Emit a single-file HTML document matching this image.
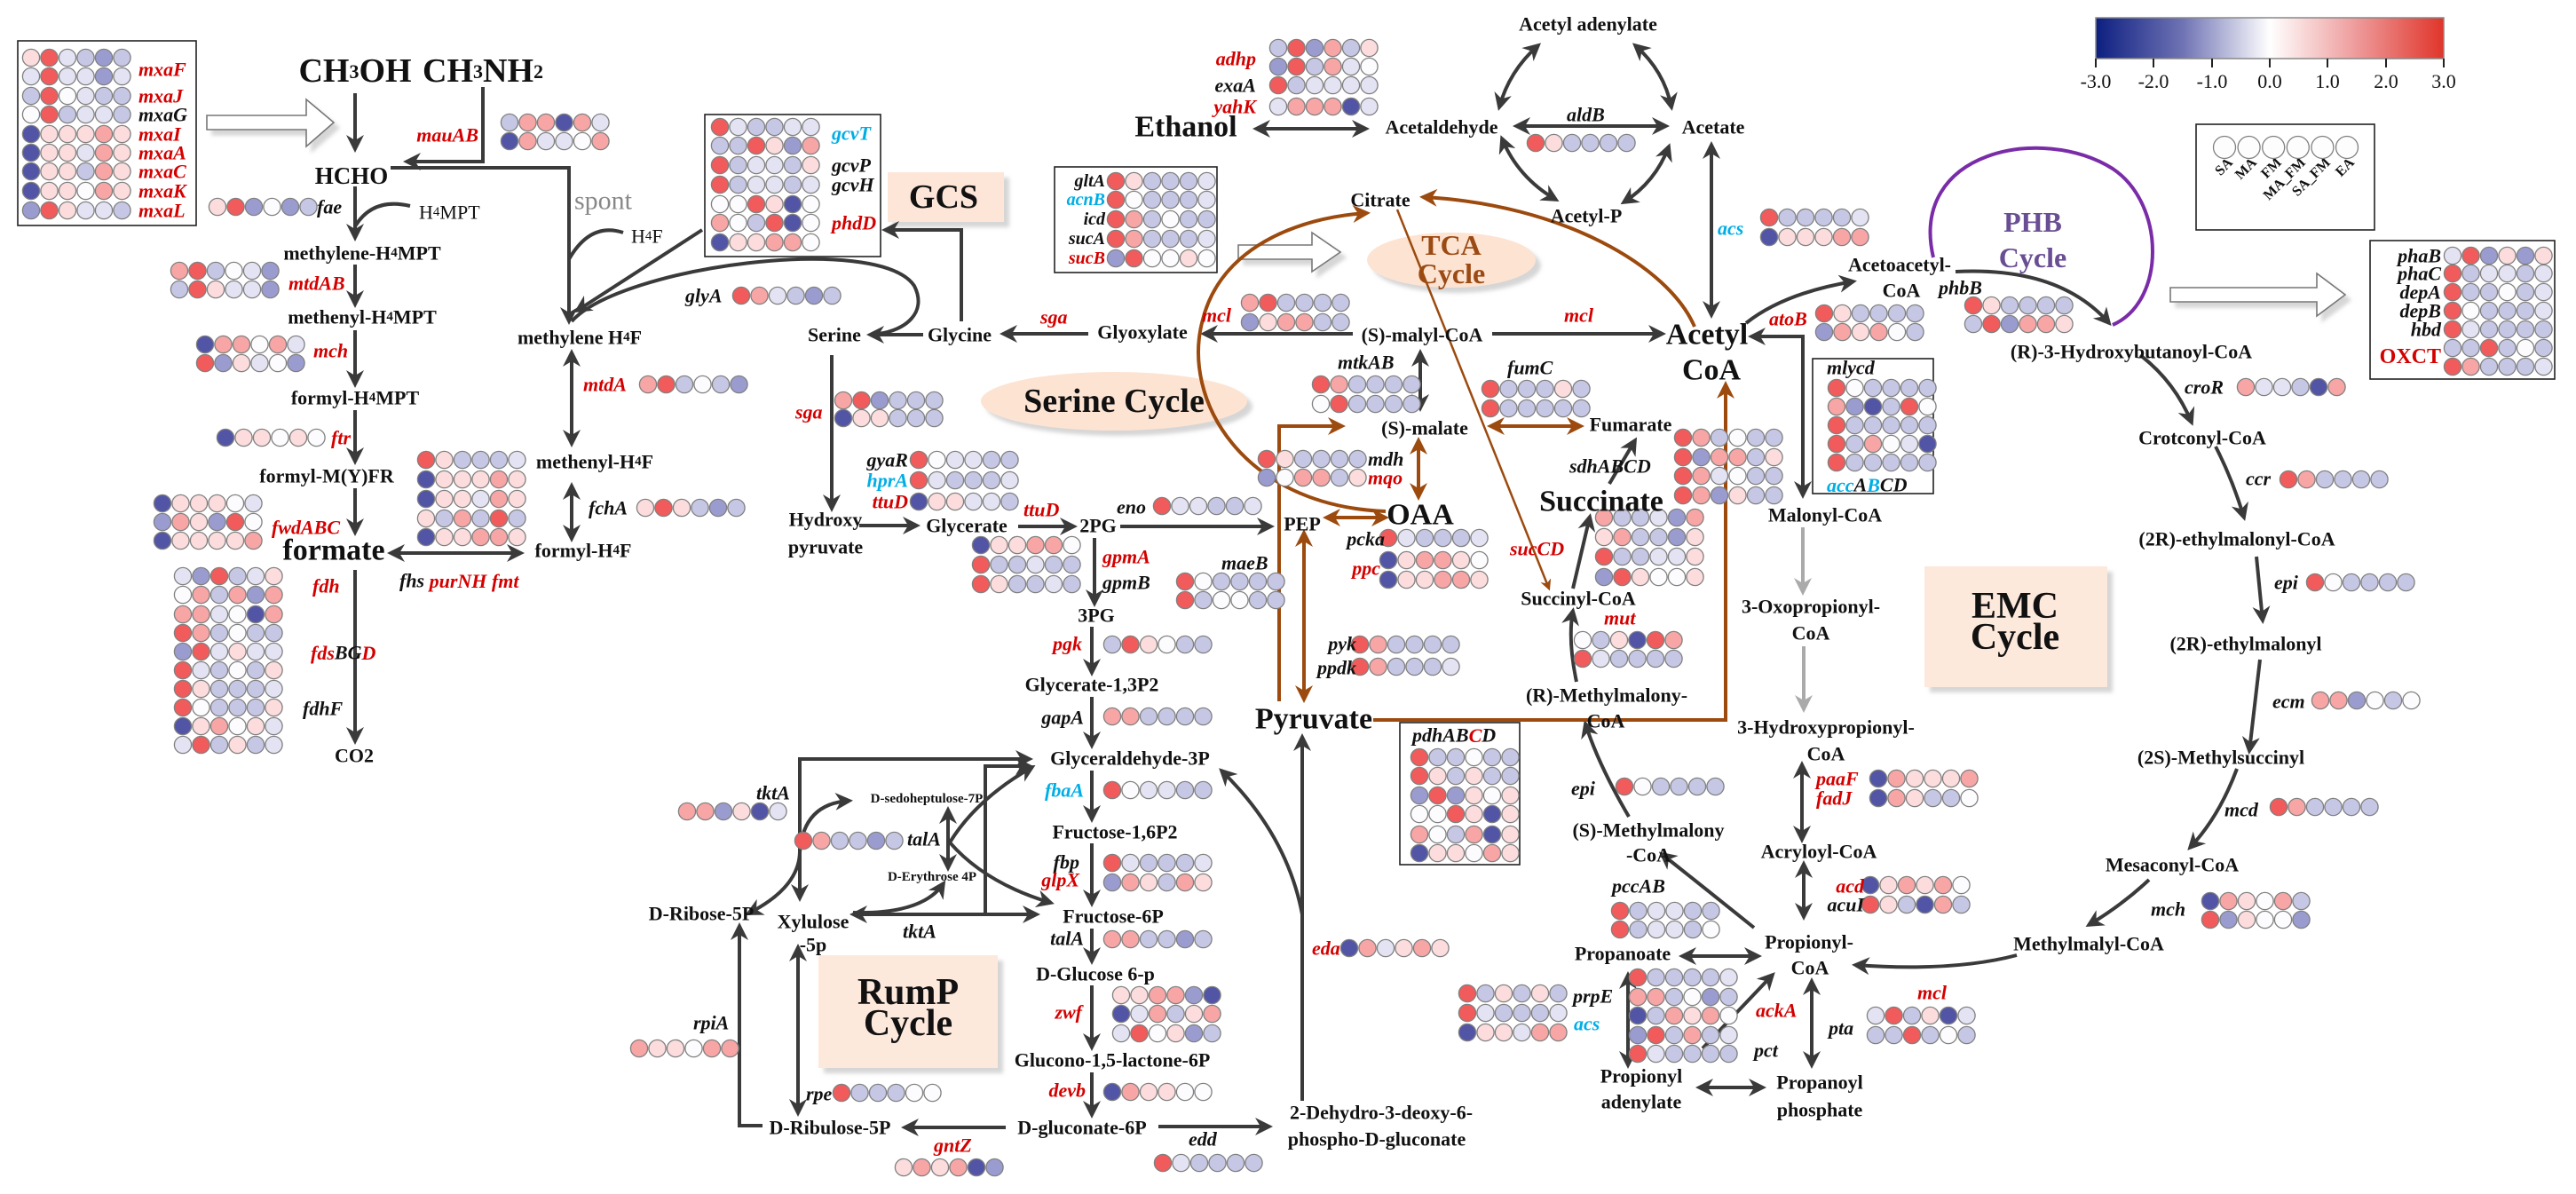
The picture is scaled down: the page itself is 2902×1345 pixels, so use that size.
<!DOCTYPE html>
<html><head><meta charset="utf-8">
<style>
html,body{margin:0;padding:0;background:#fff;}
svg{display:block;}
text{font-family:"Liberation Serif",serif;}
.m{font-weight:bold;font-size:22px;fill:#111;text-anchor:middle;dominant-baseline:central;}
.L{font-size:34px;}
.g{font-style:italic;font-weight:bold;font-size:22px;fill:#111;dominant-baseline:central;}
.e{text-anchor:end;}
.r{fill:#d40000;}
.c{fill:#00aee6;}
.k{fill:#111;}
.ar{fill:none;stroke:#3a3a3a;stroke-width:4;}
.br{fill:none;stroke:#9c4a0e;stroke-width:4;}
.gy{fill:none;stroke:#aaaaaa;stroke-width:4;}
.bx{fill:#fff;stroke:#222;stroke-width:1.6;}
</style></head>
<body>
<svg id="s" width="2902" height="1345" viewBox="0 0 2902 1345" xmlns="http://www.w3.org/2000/svg">
<defs>
<marker id="a" viewBox="0 0 10 10" refX="8" refY="5" markerWidth="5" markerHeight="5" orient="auto-start-reverse"><path d="M0,0 L10,5 L0,10 L3,5 z" fill="#3a3a3a"/></marker>
<marker id="b" viewBox="0 0 10 10" refX="8" refY="5" markerWidth="5" markerHeight="5" orient="auto-start-reverse"><path d="M0,0 L10,5 L0,10 L3,5 z" fill="#9c4a0e"/></marker>
<marker id="g" viewBox="0 0 10 10" refX="8" refY="5" markerWidth="5" markerHeight="5" orient="auto-start-reverse"><path d="M0,0 L10,5 L0,10 L3,5 z" fill="#aaaaaa"/></marker>
<linearGradient id="cb" x1="0" x2="1" y1="0" y2="0">
<stop offset="0" stop-color="#0d1f80"/><stop offset="0.25" stop-color="#6f73b4"/><stop offset="0.5" stop-color="#ffffff"/><stop offset="0.75" stop-color="#ee9a9a"/><stop offset="1" stop-color="#e0352a"/>
</linearGradient>
<filter id="sh" x="-10%" y="-10%" width="130%" height="130%"><feDropShadow dx="6" dy="6" stdDeviation="2" flood-color="#bbb" flood-opacity="0.6"/></filter>
</defs>

<rect x="1000" y="194" width="131" height="56" fill="#fde6d8" filter="url(#sh)"/>
<text class="m" x="1063" y="222" style="font-size:38px">GCS</text>
<ellipse cx="1255" cy="452" rx="150" ry="33" fill="#fde3d2" filter="url(#sh)"/>
<text class="m" x="1255" y="452" style="font-size:38px">Serine Cycle</text>
<ellipse cx="1635" cy="293" rx="95" ry="31" fill="#fde3d2" filter="url(#sh)"/>
<text class="m" x="1635" y="276" style="font-size:32px;fill:#9b4a14">TCA</text>
<text class="m" x="1635" y="308" style="font-size:32px;fill:#9b4a14">Cycle</text>
<rect x="922" y="1076" width="202" height="127" fill="#fde8dc" filter="url(#sh)"/>
<text class="m" x="1023" y="1118" style="font-size:42px">RumP</text>
<text class="m" x="1023" y="1153" style="font-size:42px">Cycle</text>
<rect x="2168" y="638" width="206" height="136" fill="#fde8dc" filter="url(#sh)"/>
<text class="m" x="2270" y="683" style="font-size:42px">EMC</text>
<text class="m" x="2270" y="718" style="font-size:42px">Cycle</text>
<text class="m" x="2290" y="250" style="font-size:32px;fill:#6a4e93">PHB</text>
<text class="m" x="2290" y="290" style="font-size:32px;fill:#6a4e93">Cycle</text>
<path d="M2178,290 C2150,170 2300,140 2380,190 C2440,230 2440,340 2380,366" fill="none" stroke="#7a2ca8" stroke-width="4"/>

<rect class="bx" x="20" y="46" width="201" height="208"/>
<rect class="bx" x="794" y="129" width="198" height="160"/>
<rect class="bx" x="1188" y="188" width="183" height="119"/>
<rect class="bx" x="2042" y="404" width="136" height="152"/>
<rect class="bx" x="1577" y="814" width="135" height="160"/>
<rect class="bx" x="2474" y="140" width="201" height="119"/>
<rect class="bx" x="2670" y="271" width="208" height="156"/>

<g fill="#fff" stroke="#777" stroke-width="1.6" filter="url(#sh)">
<path d="M233,130 L345,130 L345,112 L376,138 L345,165 L345,146 L233,146 z"/>
<path d="M1395,276 L1478,276 L1478,262 L1510,284 L1478,306 L1478,292 L1395,292 z"/>
<path d="M2445,324 L2610,324 L2610,308 L2642,332 L2610,356 L2610,340 L2445,340 z"/>
</g>

<rect x="2361" y="20" width="392" height="46" fill="url(#cb)" stroke="#888" stroke-width="1.5"/>
<g stroke="#222" stroke-width="2">
<line x1="2361" y1="66" x2="2361" y2="76"/><line x1="2426" y1="66" x2="2426" y2="76"/><line x1="2492" y1="66" x2="2492" y2="76"/><line x1="2557" y1="66" x2="2557" y2="76"/><line x1="2622" y1="66" x2="2622" y2="76"/><line x1="2688" y1="66" x2="2688" y2="76"/><line x1="2753" y1="66" x2="2753" y2="76"/>
</g>
<g font-family="Liberation Sans, sans-serif" font-size="22" text-anchor="middle" fill="#111">
<text x="2361" y="99">-3.0</text><text x="2426" y="99">-2.0</text><text x="2492" y="99">-1.0</text><text x="2557" y="99">0.0</text><text x="2622" y="99">1.0</text><text x="2688" y="99">2.0</text><text x="2753" y="99">3.0</text>
</g>
<g font-weight="bold" font-size="16" text-anchor="end" fill="#111">
<text transform="translate(2516,184) rotate(-45)">SA</text>
<text transform="translate(2543,184) rotate(-45)">MA</text>
<text transform="translate(2571,184) rotate(-45)">FM</text>
<text transform="translate(2598,184) rotate(-45)">MA_FM</text>
<text transform="translate(2626,184) rotate(-45)">SA_FM</text>
<text transform="translate(2653,184) rotate(-45)">EA</text>
</g>

<g class="ar" marker-end="url(#a)">
<path d="M400,105 L400,168"/>
<path d="M400,210 L400,268"/>
<path d="M400,298 L400,343"/>
<path d="M400,372 L400,433"/>
<path d="M400,462 L400,520"/>
<path d="M400,550 L400,600"/>
<path d="M400,642 L400,835"/>
<path d="M544,98 L544,182 L458,182"/>
<path d="M440,189 L641,189 L641,362"/>
<path d="M791,259 L650,350"/>
<path d="M1040,377 L980,377"/>
<path d="M1083,362 L1083,259 L997,259"/>
<path d="M1226,376 L1130,376"/>
<path d="M1524,376 L1356,376"/>
<path d="M1681,376 L1873,376"/>
<path d="M937,400 L937,573"/>
<path d="M968,592 L1033,592"/>
<path d="M1147,593 L1210,593"/>
<path d="M1262,593 L1432,593"/>
<path d="M1233,606 L1233,680"/>
<path d="M1230,706 L1230,758"/>
<path d="M1230,785 L1230,840"/>
<path d="M1230,868 L1230,923"/>
<path d="M1230,950 L1230,1018"/>
<path d="M1230,1046 L1230,1083"/>
<path d="M1230,1110 L1230,1180"/>
<path d="M1230,1208 L1230,1256"/>
<path d="M1305,1269 L1430,1269"/>
<path d="M1133,1270 L1019,1270"/>
<path d="M859,1268 L833,1268 L833,1043"/>
<path d="M1110,1030 L1110,863 L1160,863"/>
<path d="M1070,949 Q1100,900 1163,864"/>
<path d="M1070,949 Q1110,995 1184,1017"/>
<path d="M961,1028 Q1040,1030 1063,995"/>
<path d="M1467,1030 Q1450,940 1376,868"/>
<path d="M1467,1240 L1467,830"/>
<path d="M1772,663 L1791,582"/>
<path d="M1813,545 L1842,496"/>
<path d="M1776,768 Q1766,720 1772,688"/>
<path d="M1835,920 Q1800,860 1786,815"/>
<path d="M1976,1045 Q1920,1000 1872,962"/>
<path d="M1918,1181 L1997,1098"/>
<path d="M2272,1076 Q2200,1095 2090,1087"/>
<path d="M1967,364 Q2010,330 2088,317"/>
<path d="M2203,306 Q2320,300 2376,364"/>
<path d="M2411,400 Q2450,430 2469,476"/>
<path d="M2496,503 Q2515,540 2528,583"/>
<path d="M2542,627 L2549,699"/>
<path d="M2546,743 L2534,846"/>
<path d="M2520,866 Q2500,920 2467,955"/>
<path d="M2421,991 Q2390,1020 2353,1042"/>
</g>
<path class="ar" d="M400,255 Q420,222 462,232"/>
<path class="ar" d="M641,292 Q665,250 702,262"/>
<path class="ar" d="M644,362 C700,300 990,262 1030,322 C1045,352 1020,372 990,376"/>
<g class="ar" marker-start="url(#a)" marker-end="url(#a)">
<path d="M644,397 L644,500"/>
<path d="M644,547 L644,607"/>
<path d="M440,623 L587,623"/>
<path d="M901,1012 L901,855 L1160,855"/>
<path d="M961,1030 L1168,1030"/>
<path d="M1068,912 L1068,978"/>
<path d="M843,1029 Q900,1000 901,960 Q905,905 957,902"/>
<path d="M899,1067 L899,1254"/>
<path d="M1600,397 L1600,460"/>
<path d="M1415,145 L1539,145"/>
<path d="M1708,142 L1877,142"/>
<path d="M1689,121 Q1700,80 1733,51"/>
<path d="M1842,51 Q1875,80 1883,121"/>
<path d="M1692,156 Q1710,200 1753,225"/>
<path d="M1880,165 Q1865,205 1829,228"/>
<path d="M1928,163 L1928,355"/>
<path d="M1973,379 L2031,379 L2031,558"/>
<path d="M1895,1077 L1981,1077"/>
<path d="M1834,1098 L1834,1200"/>
<path d="M2041,1105 L2041,1200"/>
<path d="M1914,1225 L1986,1225"/>
<path d="M2030,861 L2030,946"/>
<path d="M2032,973 L2032,1033"/>
</g>
<g class="gy" marker-end="url(#g)">
<path d="M2031,594 L2031,667"/>
<path d="M2032,728 L2032,799"/>
</g>
<g class="br" marker-end="url(#b)">
<path d="M1441,790 L1441,480 L1512,480"/>
<path d="M1547,811 L1944,811 L1944,433"/>
<path d="M1561,576 C1400,570 1330,450 1355,360 C1375,280 1460,245 1540,240"/>
<path d="M1909,368 C1880,300 1760,230 1603,222"/>
<path d="M1574,236 L1745,663" style="stroke-width:2.5"/>
</g>
<g class="br" marker-start="url(#b)" marker-end="url(#b)">
<path d="M1469,788 L1469,600"/>
<path d="M1494,583 L1561,583"/>
<path d="M1598,496 L1598,560"/>
<path d="M1679,480 L1781,480"/>
</g>

<g id="cc"></g>

<text class="m" x="400" y="80" style="font-size:38px">CH<tspan font-size="22">3</tspan>OH</text>
<text class="m" x="544" y="80" style="font-size:38px">CH<tspan font-size="22">3</tspan>NH<tspan font-size="22">2</tspan></text>
<text class="m" x="396" y="198" style="font-size:27px">HCHO</text>
<text class="m" x="408" y="285">methylene-H<tspan font-size="15">4</tspan>MPT</text>
<text class="m" x="408" y="357">methenyl-H<tspan font-size="15">4</tspan>MPT</text>
<text class="m" x="400" y="448">formyl-H<tspan font-size="15">4</tspan>MPT</text>
<text class="m" x="368" y="536">formyl-M(Y)FR</text>
<text class="m L" x="376" y="620">formate</text>
<text class="m" x="399" y="851">CO2</text>
<text class="m" x="653" y="380">methylene H<tspan font-size="15">4</tspan>F</text>
<text class="m" x="670" y="520">methenyl-H<tspan font-size="15">4</tspan>F</text>
<text class="m" x="657" y="620">formyl-H<tspan font-size="15">4</tspan>F</text>
<text class="m" x="940" y="377">Serine</text>
<text class="m" x="1081" y="377">Glycine</text>
<text class="m" x="1287" y="374">Glyoxylate</text>
<text class="m" x="1602" y="377">(S)-malyl-CoA</text>
<text class="m L" x="1923" y="377">Acetyl</text>
<text class="m L" x="1928" y="417">CoA</text>
<text class="m" x="930" y="585">Hydroxy</text>
<text class="m" x="930" y="616">pyruvate</text>
<text class="m" x="1089" y="592">Glycerate</text>
<text class="m" x="1237" y="592">2PG</text>
<text class="m" x="1467" y="590">PEP</text>
<text class="m L" x="1600" y="580">OAA</text>
<text class="m" x="1235" y="693">3PG</text>
<text class="m" x="1230" y="771">Glycerate-1,3P2</text>
<text class="m" x="1273" y="854">Glyceraldehyde-3P</text>
<text class="m" x="1256" y="937">Fructose-1,6P2</text>
<text class="m" x="1254" y="1032">Fructose-6P</text>
<text class="m" x="1234" y="1097">D-Glucose 6-p</text>
<text class="m" x="1253" y="1194">Glucono-1,5-lactone-6P</text>
<text class="m" x="1219" y="1270">D-gluconate-6P</text>
<text class="m" x="935" y="1270">D-Ribulose-5P</text>
<text class="m" x="916" y="1038">Xylulose</text>
<text class="m" x="916" y="1064">-5p</text>
<text class="m" x="790" y="1029">D-Ribose-5P</text>
<text class="m" x="1044" y="900" style="font-size:15px">D-sedoheptulose-7P</text>
<text class="m" x="1050" y="988" style="font-size:15px">D-Erythrose 4P</text>
<text class="m" x="1556" y="1253">2-Dehydro-3-deoxy-6-</text>
<text class="m" x="1551" y="1283">phospho-D-gluconate</text>
<text class="m L" x="1480" y="810">Pyruvate</text>
<text class="m" x="1555" y="225">Citrate</text>
<text class="m L" x="1336" y="143">Ethanol</text>
<text class="m" x="1624" y="143">Acetaldehyde</text>
<text class="m" x="1789" y="27">Acetyl adenylate</text>
<text class="m" x="1930" y="143">Acetate</text>
<text class="m" x="1787" y="243">Acetyl-P</text>
<text class="m" x="1605" y="482">(S)-malate</text>
<text class="m" x="1837" y="478">Fumarate</text>
<text class="m L" x="1804" y="565">Succinate</text>
<text class="m" x="1778" y="674">Succinyl-CoA</text>
<text class="m" x="1810" y="783">(R)-Methylmalony-</text>
<text class="m" x="1809" y="812">CoA</text>
<text class="m" x="1857" y="935">(S)-Methylmalony</text>
<text class="m" x="1857" y="963">-CoA</text>
<text class="m" x="1828" y="1074">Propanoate</text>
<text class="m" x="2038" y="1061">Propionyl-</text>
<text class="m" x="2039" y="1090">CoA</text>
<text class="m" x="1849" y="1212">Propionyl</text>
<text class="m" x="1849" y="1241">adenylate</text>
<text class="m" x="2050" y="1219">Propanoyl</text>
<text class="m" x="2050" y="1250">phosphate</text>
<text class="m" x="2056" y="580">Malonyl-CoA</text>
<text class="m" x="2040" y="683">3-Oxopropionyl-</text>
<text class="m" x="2040" y="713">CoA</text>
<text class="m" x="2057" y="819">3-Hydroxypropionyl-</text>
<text class="m" x="2057" y="849">CoA</text>
<text class="m" x="2049" y="959">Acryloyl-CoA</text>
<text class="m" x="2140" y="298">Acetoacetyl-</text>
<text class="m" x="2142" y="327">CoA</text>
<text class="m" x="2401" y="396">(R)-3-Hydroxybutanoyl-CoA</text>
<text class="m" x="2481" y="493">Crotconyl-CoA</text>
<text class="m" x="2520" y="607">(2R)-ethylmalonyl-CoA</text>
<text class="m" x="2530" y="725">(2R)-ethylmalonyl</text>
<text class="m" x="2502" y="853">(2S)-Methylsuccinyl</text>
<text class="m" x="2447" y="974">Mesaconyl-CoA</text>
<text class="m" x="2353" y="1063">Methylmalyl-CoA</text>
<text x="647" y="226" style="font-size:30px;fill:#888;dominant-baseline:central">spont</text>
<text x="472" y="239" style="font-size:22px;fill:#111;dominant-baseline:central">H<tspan font-size="15">4</tspan>MPT</text>
<text x="711" y="266" style="font-size:22px;fill:#111;dominant-baseline:central">H<tspan font-size="15">4</tspan>F</text>

<g class="g">
<text x="156" y="78" class="r">mxaF</text>
<text x="156" y="108" class="r">mxaJ</text>
<text x="156" y="129">mxaG</text>
<text x="156" y="151" class="r">mxaI</text>
<text x="156" y="172" class="r">mxaA</text>
<text x="156" y="193" class="r">mxaC</text>
<text x="156" y="215" class="r">mxaK</text>
<text x="156" y="237" class="r">mxaL</text>
<text x="539" y="152" class="e r">mauAB</text>
<text x="357" y="233">fae</text>
<text x="325" y="319" class="r">mtdAB</text>
<text x="353" y="395" class="r">mch</text>
<text x="373" y="493" class="r">ftr</text>
<text x="306" y="594" class="r">fwdABC</text>
<text x="352" y="660" class="r">fdh</text>
<text x="350" y="735"><tspan class="r">fds</tspan>BG<tspan class="r">D</tspan></text>
<text x="341" y="798">fdhF</text>
<text x="772" y="333">glyA</text>
<text x="657" y="433" class="r">mtdA</text>
<text x="663" y="572">fchA</text>
<text x="450" y="654">fhs <tspan class="r">purNH fmt</tspan></text>
<text x="937" y="150" class="c">gcvT</text>
<text x="937" y="186">gcvP</text>
<text x="937" y="208">gcvH</text>
<text x="937" y="251" class="r">phdD</text>
<text x="1172" y="357" class="r">sga</text>
<text x="896" y="464" class="r">sga</text>
<text x="1023" y="518" class="e">gyaR</text>
<text x="1023" y="541" class="e c">hprA</text>
<text x="1023" y="565" class="e r">ttuD</text>
<text x="1153" y="574" class="r">ttuD</text>
<text x="1258" y="571">eno</text>
<text x="1242" y="627" class="r">gpmA</text>
<text x="1242" y="656">gpmB</text>
<text x="1376" y="634">maeB</text>
<text x="1354" y="355" class="r">mcl</text>
<text x="1762" y="355" class="r">mcl</text>
<text x="1245" y="204" class="e" style="font-size:20px">gltA</text>
<text x="1245" y="225" class="e c" style="font-size:20px">acnB</text>
<text x="1245" y="247" class="e" style="font-size:20px">icd</text>
<text x="1245" y="269" class="e" style="font-size:20px">sucA</text>
<text x="1245" y="291" class="e r" style="font-size:20px">sucB</text>
<text x="1415" y="66" class="e r">adhp</text>
<text x="1415" y="96" class="e">exaA</text>
<text x="1415" y="120" class="e r">yahK</text>
<text x="1765" y="129">aldB</text>
<text x="1935" y="257" class="c">acs</text>
<text x="1507" y="408">mtkAB</text>
<text x="1698" y="414">fumC</text>
<text x="1541" y="517">mdh</text>
<text x="1541" y="538" class="r">mqo</text>
<text x="1768" y="525">sdhABCD</text>
<text x="1701" y="618" class="r">sucCD</text>
<text x="1560" y="607" class="e">pcka</text>
<text x="1555" y="640" class="e r">ppc</text>
<text x="1528" y="725" class="e">pyk</text>
<text x="1528" y="752" class="e">ppdk</text>
<text x="1807" y="696" class="r">mut</text>
<text x="1591" y="828">pdhAB<tspan class="r">C</tspan>D</text>
<text x="1770" y="888">epi</text>
<text x="1816" y="998">pccAB</text>
<text x="1772" y="1122">prpE</text>
<text x="1773" y="1153" class="c">acs</text>
<text x="1978" y="1138" class="r">ackA</text>
<text x="1976" y="1183">pct</text>
<text x="2060" y="1158">pta</text>
<text x="2160" y="1118" class="r">mcl</text>
<text x="2046" y="877" class="r">paaF</text>
<text x="2046" y="899" class="r">fadJ</text>
<text x="2100" y="998" class="e r">acd</text>
<text x="2100" y="1019" class="e">acuI</text>
<text x="1478" y="1068" class="r">eda</text>
<text x="2461" y="436">croR</text>
<text x="2530" y="539">ccr</text>
<text x="2562" y="656">epi</text>
<text x="2560" y="790">ecm</text>
<text x="2506" y="912">mcd</text>
<text x="2423" y="1024">mch</text>
<text x="1993" y="359" class="r">atoB</text>
<text x="2184" y="324">phbB</text>
<text x="2058" y="414">mlycd</text>
<text x="2058" y="546"><tspan class="c">acc</tspan>A<tspan class="c">B</tspan>CD</text>
<text x="2750" y="288" class="e">phaB</text>
<text x="2750" y="308" class="e">phaC</text>
<text x="2750" y="329" class="e">depA</text>
<text x="2750" y="350" class="e">depB</text>
<text x="2750" y="371" class="e">hbd</text>
<text x="2750" y="402" class="e r" style="font-style:normal;font-size:24px">OXCT</text>
<text x="1219" y="725" class="e r">pgk</text>
<text x="1221" y="808" class="e">gapA</text>
<text x="1221" y="890" class="e c">fbaA</text>
<text x="1216" y="971" class="e">fbp</text>
<text x="1216" y="991" class="e r">glpX</text>
<text x="1221" y="1057" class="e">talA</text>
<text x="1219" y="1140" class="e r">zwf</text>
<text x="1223" y="1228" class="e r">devb</text>
<text x="1339" y="1283">edd</text>
<text x="1052" y="1290" class="r">gntZ</text>
<text x="908" y="1232">rpe</text>
<text x="781" y="1152">rpiA</text>
<text x="852" y="893">tktA</text>
<text x="1017" y="1049">tktA</text>
<text x="1022" y="945">talA</text>
</g>
</svg>
<script>
(function(){
var C={R:'#f15b5b',r:'#f7a5a5',p:'#fcdcdc',w:'#fcfcfe',l:'#e3e3f3',b:'#c6c7e5',B:'#9a9cd0',D:'#5255a6'};
var rows=[
[35,65,'pRlbBb'],[35,86,'lRllBl'],[35,108,'bRwlbb'],[35,129,'wRbllb'],[35,151,'Dppprp'],[35,172,'Dpplrp'],[35,193,'Dppbrp'],[35,215,'Dppwrp'],[35,237,'BRpllb'],
[574,138,'brrDrl'],[574,159,'Drllwr'],[245,233,'pRBwBb'],[202,305,'rRbwlB'],[202,326,'bRpllB'],[231,388,'Drrwrl'],[231,409,'RBplwB'],[254,493,'Dppwpw'],
[183,567,'Dpppwl'],[183,588,'BrpBRw'],[183,609,'Dppppr'],
[206,649,'lBRblp'],[206,670,'wrbrBr'],[206,692,'rrlwDr'],[206,713,'Rrbwbb'],[206,734,'BRlpll'],[206,755,'Rlbwbp'],[206,776,'Rpbbbl'],[206,797,'Rwbbbp'],[206,818,'Dprwpl'],[206,839,'lRbpbl'],
[480,518,'Rpbbbl'],[480,540,'Dppprp'],[480,562,'Dpplrp'],[480,584,'pbrbRb'],[480,605,'Dpprrp'],
[730,433,'rRbwbB'],[727,572,'pRpbBb'],[835,333,'RrlbBb'],
[811,143,'Rlbbll'],[811,164,'bbRpBr'],[811,186,'Rbllbp'],[811,208,'Rbllbl'],[811,230,'wwRpDw'],[811,251,'rwbRDw'],[811,273,'Dpprrw'],
[950,451,'rRBbbb'],[950,471,'Dppbbb'],[1035,518,'Rwllbb'],[1035,541,'Rlbbbl'],[1035,565,'Dppllb'],
[1105,614,'Dpprrw'],[1105,636,'Rbblbb'],[1105,658,'Rpbblb'],[1309,570,'Rllbbl'],[1335,655,'Rwbbbb'],[1335,676,'Rbwwbb'],
[1408,341,'rRbbbb'],[1408,363,'Bprrbb'],
[1257,204,'Rpbbbl'],[1257,225,'Rwbbbl'],[1257,247,'Rrbwbb'],[1257,269,'Rrbbbl'],[1257,291,'BRwwpw'],
[1440,54,'bRBrbp'],[1440,75,'BRbrlw'],[1440,96,'Rbllll'],[1440,120,'lrrrDl'],[1730,161,'Rpbbbb'],
[1993,245,'Rbbbbl'],[1993,267,'Dppprr'],[1488,433,'Rrbbbb'],[1488,455,'wRbbbb'],[1679,438,'Rbbbpb'],[1679,460,'Rbbbbb'],
[1427,517,'Rpbbbb'],[1427,538,'Bwrrbp'],
[1896,493,'Rrbwbb'],[1896,515,'RBrrbp'],[1896,536,'Rrlwbb'],[1896,558,'RrBpbb'],
[1807,583,'rbblBr'],[1807,605,'prbbBp'],[1807,627,'Rbbllp'],[1807,650,'BRpwwp'],
[1564,606,'Rlbbbl'],[1564,631,'Dprrpw'],[1564,653,'Dpprrp'],[1532,726,'Rrbbbb'],[1532,751,'Rrbbbl'],
[1783,721,'wbpDRr'],[1783,742,'Rlbbbb'],
[1599,853,'Rbbwbb'],[1599,874,'Rpbpbb'],[1599,896,'BRBpwp'],[1599,917,'wwRpDp'],[1599,940,'rwbrDp'],[1599,961,'Dppwrp'],
[1830,886,'Rwbbbb'],[1825,1026,'Rbllbb'],[1825,1047,'Rbllbw'],
[1653,1119,'Rbpbpb'],[1653,1141,'Rlbbbl'],[1653,1163,'Dpplrr'],
[1845,1101,'Rbbbbl'],[1845,1123,'rrbwBb'],[1845,1144,'Dbrprw'],[1845,1166,'BRbrbl'],[1845,1187,'Rlbbbb'],
[2113,1144,'lRbpDl'],[2113,1166,'bbRbwb'],[2116,877,'Drpppr'],[2116,899,'Drpbbw'],[2107,997,'Dprprw'],[2107,1019,'RpbDrb'],
[1520,1068,'Drlprp'],[2530,436,'rllbDr'],[2578,540,'Rrbbbb'],[2608,656,'Rwbbbb'],[2614,789,'rrBwbw'],[2567,909,'Rrbbbb'],
[2490,1015,'Drpwrb'],[2490,1036,'RBpwwB'],[2055,353,'Rpbbbb'],[2055,374,'Brprwb'],[2223,344,'Rpbbbb'],[2223,365,'bRBrrp'],
[2069,437,'Rwbbbb'],[2069,458,'rBDbRw'],[2069,479,'Rbbbbb'],[2069,500,'RbrwlD'],[2069,521,'Rbbbbb'],
[2763,288,'lRBpBp'],[2763,308,'Rbllbl'],[2763,329,'Rbbwbl'],[2763,350,'Rwbbbl'],[2763,371,'Rlbbbb'],[2763,392,'bbRbwb'],[2763,413,'Rrbbbl'],
[1253,726,'bRpwbb'],[1253,807,'rrbbbb'],[1253,890,'Rwllbb'],[1253,972,'Rlbbbl'],[1253,994,'Brpbrp'],[1253,1058,'rrbbBb'],
[1263,1121,'pprrBD'],[1263,1142,'Dlrbpr'],[1263,1164,'lRwpBb'],[1253,1230,'Drppww'],[1310,1310,'Rlbbbb'],[1018,1315,'prprDB'],
[948,1231,'Rbbbww'],[720,1181,'rppwrr'],[774,914,'rrBpDl'],[905,947,'RrbbBb']
];
var g=document.getElementById('cc'),ns='http://www.w3.org/2000/svg';
function c(x,y,r,f){var e=document.createElementNS(ns,'circle');e.setAttribute('cx',x);e.setAttribute('cy',y);e.setAttribute('r',r);e.setAttribute('fill',f);e.setAttribute('stroke','#808080');e.setAttribute('stroke-width','1.3');g.appendChild(e);}
rows.forEach(function(q){for(var i=0;i<q[2].length;i++)c(q[0]+i*20.5,q[1],9.6,C[q[2][i]]);});
for(var i=0;i<6;i++)c(2506+27.6*i,166,12.5,'#fdfdfd');
})();
</script>
</body></html>
